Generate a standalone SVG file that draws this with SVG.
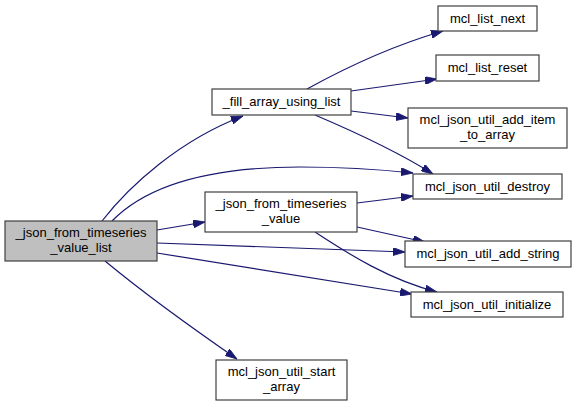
<svg xmlns="http://www.w3.org/2000/svg" width="576" height="406" viewBox="0 0 576 406">
<defs>
<style>
.node rect{fill:#ffffff;stroke:#404040;stroke-width:1.2}
.node.main rect{fill:#bfbfbf}
.node text{font-family:"Liberation Sans",Arial,sans-serif;font-size:13px;fill:#000000;text-anchor:middle}
.edges path{fill:none;stroke:#191970;stroke-width:1.2;marker-end:url(#arr)}
</style>
<marker id="arr" viewBox="0 0 12 8" refX="12" refY="4" markerWidth="12" markerHeight="8" markerUnits="userSpaceOnUse" orient="auto">
<path d="M0,0 L12,4 L0,8 z" fill="#191970" stroke="#191970" stroke-width="0.8"/>
</marker>
</defs>
<rect width="576" height="406" fill="#ffffff"/>
<g class="edges" id="edges">
<path d="M102,221 C130,185 180,140 243,116"/>
<path d="M112,221 C150,182 220,167 300,167 C345,167 385,170 413,173"/>
<path d="M157,230 L205,222"/>
<path d="M157,243 L405,252"/>
<path d="M157,253 L412,294"/>
<path d="M105,261 C140,290 195,330 237,359"/>
<path d="M307,89 C345,68 395,45 443,31"/>
<path d="M351,91 L437,79"/>
<path d="M351,111 L408,118"/>
<path d="M315,115 C355,132 395,150 433,174"/>
<path d="M357,203 L413,196"/>
<path d="M357,227 L425,242"/>
<path d="M315,232 C350,255 390,280 437,292"/>
</g>
<g class="node main" id="node-json_from_timeseries_value_list">
<rect x="5" y="221" width="152" height="40"/>
<text x="81" y="237">_json_from_timeseries</text>
<text x="81" y="252">_value_list</text>
</g>
<g class="node" id="node-fill_array_using_list">
<rect x="212" y="89" width="139" height="26"/>
<text x="281.5" y="106">_fill_array_using_list</text>
</g>
<g class="node" id="node-json_from_timeseries_value">
<rect x="205" y="192" width="152" height="40"/>
<text x="281" y="208">_json_from_timeseries</text>
<text x="281" y="223">_value</text>
</g>
<g class="node" id="node-mcl_json_util_start_array">
<rect x="216" y="360" width="131" height="40"/>
<text x="281.5" y="376">mcl_json_util_start</text>
<text x="281.5" y="391">_array</text>
</g>
<g class="node" id="node-mcl_list_next">
<rect x="438" y="6" width="99" height="25"/>
<text x="487.5" y="23">mcl_list_next</text>
</g>
<g class="node" id="node-mcl_list_reset">
<rect x="436" y="55" width="103" height="26"/>
<text x="487.5" y="72">mcl_list_reset</text>
</g>
<g class="node" id="node-mcl_json_util_add_item_to_array">
<rect x="408" y="108" width="159" height="40"/>
<text x="487.5" y="124">mcl_json_util_add_item</text>
<text x="487.5" y="139">_to_array</text>
</g>
<g class="node" id="node-mcl_json_util_destroy">
<rect x="413" y="174" width="149" height="25"/>
<text x="487.5" y="191">mcl_json_util_destroy</text>
</g>
<g class="node" id="node-mcl_json_util_add_string">
<rect x="405" y="241" width="166" height="26"/>
<text x="488" y="258">mcl_json_util_add_string</text>
</g>
<g class="node" id="node-mcl_json_util_initialize">
<rect x="411" y="292" width="152" height="25"/>
<text x="487" y="309">mcl_json_util_initialize</text>
</g>
</svg>
